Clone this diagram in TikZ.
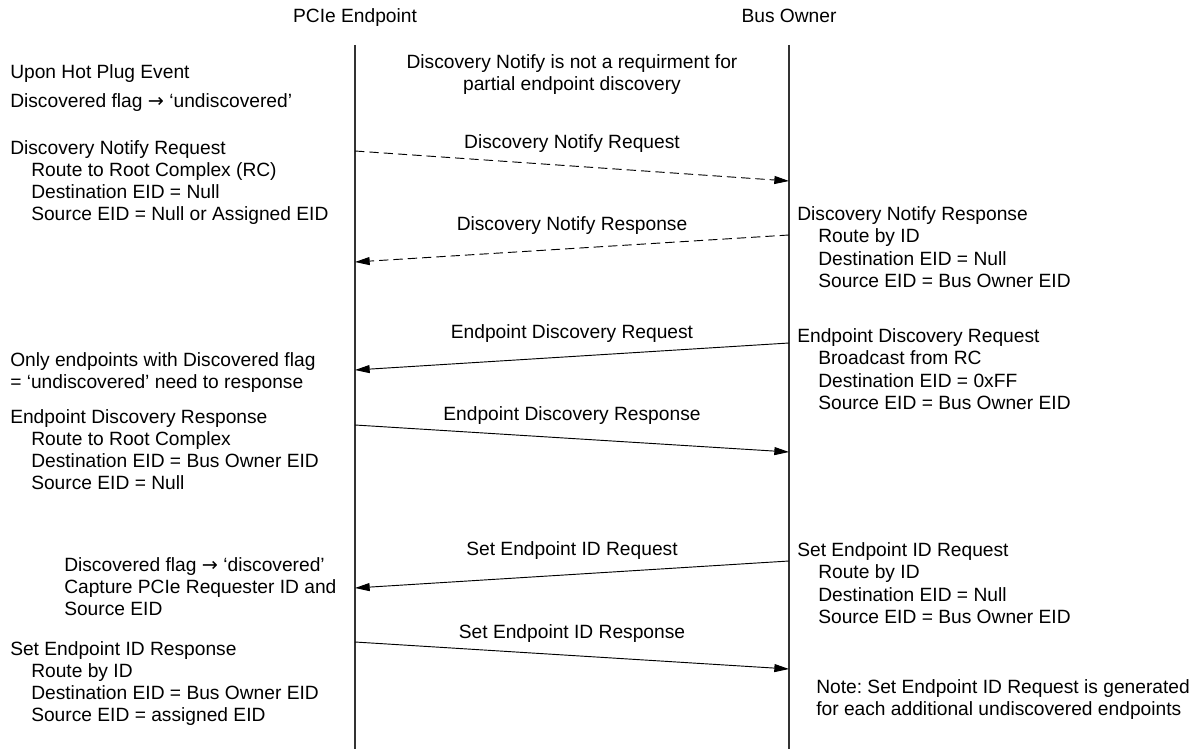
\documentclass[tikz,border=0pt]{standalone}
\usepackage{fontspec}
\setmainfont{Liberation Sans}
\newfontfamily\arrowfont{DejaVu Sans}
\usetikzlibrary{arrows.meta}
\newcommand{\ind}{\hspace*{15.75pt}}
\newcommand{\flagarrow}{{\arrowfont\fontsize{14.4}{16.7}\selectfont →}}
\frenchspacing
\begin{document}
\begin{tikzpicture}[x=0.75pt,y=-0.75pt,
  every node/.style={font=\fontsize{14.4}{16.7}\selectfont, inner sep=0pt},
  txt/.style={anchor=base west},
  lbl/.style={anchor=base},
  life/.style={line width=0.8pt, draw=black!80},
  msg/.style={line width=0.7pt, -{Triangle[length=11pt,width=6pt]}},
  dmsg/.style={msg, dash pattern=on 7pt off 3.75pt}]
\path[use as bounding box] (0,0) rectangle (1203,749);

% headers and lifelines
\node[lbl] (hpe) at (355,23) {PCIe Endpoint};
\node[lbl] (hbo) at (789,23) {Bus Owner};
\coordinate (peT) at (355,45);
\coordinate (peB) at (355,749);
\coordinate (boT) at (789,45);
\coordinate (boB) at (789,749);
\draw[life] (peT) -- (peB);
\draw[life] (boT) -- (boB);

% top note
\node[lbl] (topnote) at (572,68.5) {\begin{tabular}[t]{@{}c@{}}Discovery Notify is not a requirment for\\ partial endpoint discovery\end{tabular}};

% left column
\node[txt] (l1) at (10,79) {Upon Hot Plug Event};
\node[txt] (l2) at (10,107.5) {Discovered flag \flagarrow{} ‘undiscovered’};
\node[txt] (l3) at (10,154) {\begin{tabular}[t]{@{}l@{}}Discovery Notify Request\\ \ind Route to Root Complex (RC)\\ \ind Destination EID = Null\\ \ind Source EID = Null or Assigned EID\end{tabular}};
\node[txt] (l4) at (10,366) {\begin{tabular}[t]{@{}l@{}}Only endpoints with Discovered flag\\ = ‘undiscovered’ need to response\end{tabular}};
\node[txt] (l5) at (10,423) {\begin{tabular}[t]{@{}l@{}}Endpoint Discovery Response\\ \ind Route to Root Complex\\ \ind Destination EID = Bus Owner EID\\ \ind Source EID = Null\end{tabular}};
\node[txt] (l6) at (64,571) {\begin{tabular}[t]{@{}l@{}}Discovered flag \flagarrow{} ‘discovered’\\ Capture PCIe Requester ID and\\ Source EID\end{tabular}};
\node[txt] (l7) at (10,655) {\begin{tabular}[t]{@{}l@{}}Set Endpoint ID Response\\ \ind Route by ID\\ \ind Destination EID = Bus Owner EID\\ \ind Source EID = assigned EID\end{tabular}};

% right column
\node[txt] (r1) at (797,220.7) {\begin{tabular}[t]{@{}l@{}}Discovery Notify Response\\ \ind Route by ID\\ \ind Destination EID = Null\\ \ind Source EID = Bus Owner EID\end{tabular}};
\node[txt] (r2) at (797,342.7) {\begin{tabular}[t]{@{}l@{}}Endpoint Discovery Request\\ \ind Broadcast from RC\\ \ind Destination EID = 0xFF\\ \ind Source EID = Bus Owner EID\end{tabular}};
\node[txt] (r3) at (797,556.7) {\begin{tabular}[t]{@{}l@{}}Set Endpoint ID Request\\ \ind Route by ID\\ \ind Destination EID = Null\\ \ind Source EID = Bus Owner EID\end{tabular}};
\node[txt] (r4) at (816,693) {\begin{tabular}[t]{@{}l@{}}Note: Set Endpoint ID Request is generated\\ for each additional undiscovered endpoints\end{tabular}};

% messages
\coordinate (m1s) at (355,151);  \coordinate (m1e) at (789,181);
\coordinate (m2s) at (789,235);  \coordinate (m2e) at (355,262);
\coordinate (m3s) at (789,343);  \coordinate (m3e) at (355,370);
\coordinate (m4s) at (355,425);  \coordinate (m4e) at (789,452);
\coordinate (m5s) at (789,561);  \coordinate (m5e) at (355,588);
\coordinate (m6s) at (355,642);  \coordinate (m6e) at (789,669);
\draw[dmsg] (m1s) -- (m1e);
\draw[dmsg] (m2s) -- (m2e);
\draw[msg] (m3s) -- (m3e);
\draw[msg] (m4s) -- (m4e);
\draw[msg] (m5s) -- (m5e);
\draw[msg] (m6s) -- (m6e);
\node[lbl] (t1) at (572,148.3) {Discovery Notify Request};
\node[lbl] (t2) at (572,230) {Discovery Notify Response};
\node[lbl] (t3) at (572,338) {Endpoint Discovery Request};
\node[lbl] (t4) at (572,420) {Endpoint Discovery Response};
\node[lbl] (t5) at (572,555) {Set Endpoint ID Request};
\node[lbl] (t6) at (572,638) {Set Endpoint ID Response};
\end{tikzpicture}
\end{document}
